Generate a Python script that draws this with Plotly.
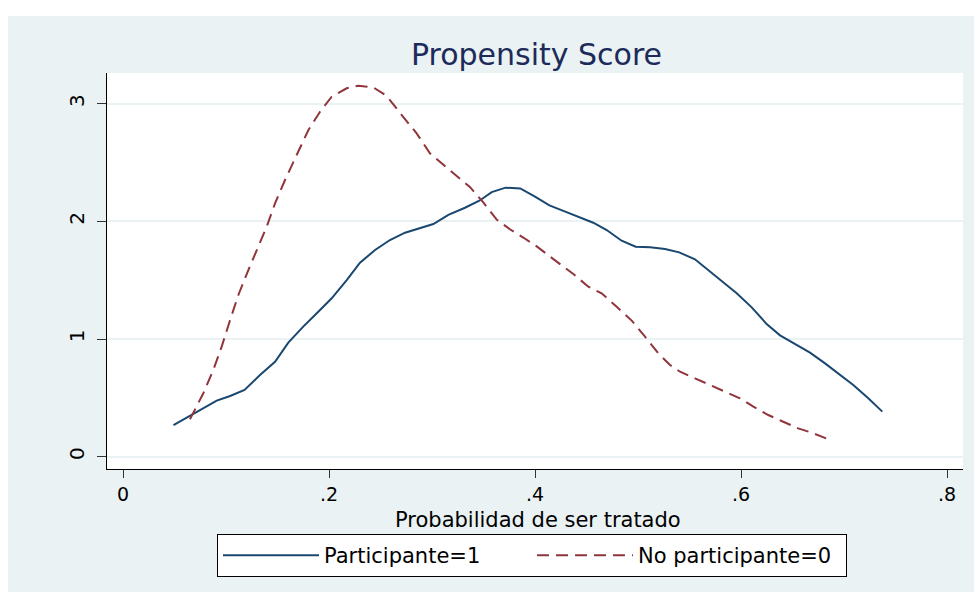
import plotly.graph_objects as go

# ---- data ----
part_x = [0.049, 0.0715, 0.091, 0.104, 0.118, 0.133, 0.1476, 0.1605, 0.175, 0.1896,
          0.2026, 0.2172, 0.2301, 0.2447, 0.2592, 0.2738, 0.2883, 0.3013, 0.3159, 0.332,
          0.346, 0.358, 0.3714, 0.3857, 0.400, 0.414, 0.4275, 0.442, 0.4566, 0.4696,
          0.4841, 0.4977, 0.5117, 0.5262, 0.540, 0.5553, 0.5683, 0.5828, 0.5958, 0.6104,
          0.6249, 0.6379, 0.6524, 0.667, 0.6816, 0.6945, 0.709, 0.7236, 0.7372]
part_y = [0.269, 0.383, 0.476, 0.516, 0.567, 0.694, 0.807, 0.969, 1.105, 1.232,
          1.346, 1.501, 1.648, 1.756, 1.841, 1.903, 1.940, 1.977, 2.055, 2.115,
          2.175, 2.248, 2.286, 2.279, 2.209, 2.135, 2.088, 2.037, 1.988, 1.926,
          1.835, 1.784, 1.779, 1.765, 1.736, 1.677, 1.586, 1.487, 1.388, 1.269,
          1.127, 1.031, 0.957, 0.884, 0.793, 0.708, 0.609, 0.496, 0.383]

nopart_x = [0.065, 0.078, 0.0877, 0.0958, 0.104, 0.112, 0.1217, 0.1314, 0.1395, 0.1476,
            0.1573, 0.1686, 0.180, 0.1913, 0.2026, 0.2172, 0.2285, 0.243, 0.256, 0.2706,
            0.2851, 0.298, 0.311, 0.324, 0.337, 0.3498, 0.3628, 0.376, 0.389, 0.402,
            0.4146, 0.4372, 0.4518, 0.4647, 0.4793, 0.4939, 0.5068, 0.5197, 0.5311, 0.5408,
            0.5553, 0.5699, 0.5845, 0.599, 0.612, 0.6265, 0.641, 0.6556, 0.6702, 0.6848]
nopart_y = [0.318, 0.539, 0.737, 0.935, 1.161, 1.374, 1.586, 1.784, 1.954, 2.153,
            2.351, 2.563, 2.776, 2.931, 3.059, 3.130, 3.152, 3.138, 3.065, 2.903,
            2.747, 2.578, 2.478, 2.385, 2.290, 2.160, 2.015, 1.930, 1.860, 1.785,
            1.700, 1.552, 1.444, 1.388, 1.274, 1.156, 1.020, 0.878, 0.779, 0.722,
            0.666, 0.609, 0.552, 0.496, 0.425, 0.354, 0.297, 0.241, 0.199, 0.148]

x_ticks = [0, 0.2, 0.4, 0.6, 0.8]
x_tick_labels = ["0", ".2", ".4", ".6", ".8"]
y_ticks = [0, 1, 2, 3]
y_tick_labels = ["0", "1", "2", "3"]

title_text = "Propensity Score"
x_title = "Probabilidad de ser tratado"
name_part = "Participante=1"
name_nopart = "No participante=0"

# ---- styling ----
FONT = "DejaVu Sans"
BG = "#EAF2F3"
W, H = 974, 592
L, R, T, B = 107, 11, 73, 123
PW, PH = W - L - R, H - T - B

fig = go.Figure()
fig.add_trace(go.Scatter(x=part_x, y=part_y, mode="lines", name=name_part,
                         line=dict(color="#1A476F", width=2)))
fig.add_trace(go.Scatter(x=nopart_x, y=nopart_y, mode="lines", name=name_nopart,
                         line=dict(color="#90353B", width=2, dash="12px,7px")))

def px_x(p):
    return (p - L) / PW

def px_y(p):
    return (H - B - p) / PH

fig.update_layout(
    width=W, height=H,
    margin=dict(l=L, r=R, t=T, b=B, pad=0, autoexpand=False),
    paper_bgcolor="white",
    plot_bgcolor="white",
    font=dict(family=FONT, color="black"),
    title=dict(text=title_text, x=px_x(536.5), xref="paper", xanchor="center",
               y=1 - 54.5 / H, yref="container", yanchor="middle",
               font=dict(family=FONT, size=30, color="#1c2b59")),
    shapes=[
        dict(type="rect", xref="paper", yref="paper", layer="below",
             x0=px_x(8), x1=px_x(974), y0=px_y(600), y1=px_y(16),
             fillcolor=BG, line=dict(width=0)),
        dict(type="rect", xref="paper", yref="paper", layer="below",
             x0=0, x1=1, y0=0, y1=1, fillcolor="white", line=dict(width=0)),
    ],
    annotations=[
        dict(text=x_title, xref="paper", yref="paper", x=px_x(537.5), y=px_y(520),
             xanchor="center", yanchor="middle", showarrow=False,
             font=dict(family=FONT, size=21, color="black")),
    ],
    showlegend=True,
    legend=dict(orientation="h", x=px_x(217), xanchor="left", y=px_y(534), yanchor="top",
                bgcolor="white", bordercolor="black", borderwidth=1,
                font=dict(family=FONT, size=21, color="black"),
                itemwidth=96, entrywidth=203, entrywidthmode="pixels",
                tracegroupgap=0),
    xaxis=dict(range=[-0.01553, 0.81553], tickvals=x_ticks, ticktext=x_tick_labels,
               ticks="outside", ticklen=8, tickwidth=1.2, tickcolor="#333",
               showline=True, linecolor="black", linewidth=1.2,
               showgrid=False, zeroline=False, automargin=False,
               tickfont=dict(family=FONT, size=19, color="black")),
    yaxis=dict(range=[-0.1045, 3.26], tickvals=y_ticks, ticktext=y_tick_labels,
               ticks="outside", ticklen=9, tickwidth=1.2, tickcolor="#333",
               showline=True, linecolor="black", linewidth=1.2,
               showgrid=True, gridcolor=BG, gridwidth=2, zeroline=False,
               tickangle=-90, automargin=False, ticklabelstandoff=5,
               tickfont=dict(family=FONT, size=20, color="black")),
)

fig.write_html("out.html", config={"displayModeBar": False},
               post_script="document.body.style.margin='0';")
